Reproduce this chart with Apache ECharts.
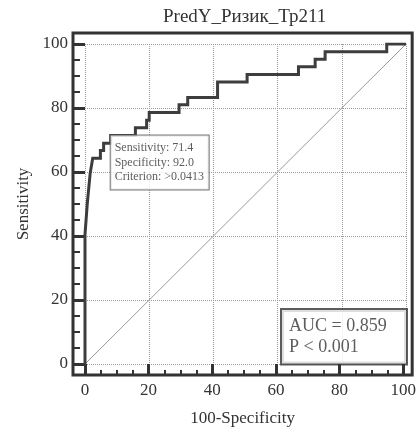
<!DOCTYPE html>
<html><head><meta charset="utf-8">
<script src="https://cdn.jsdelivr.net/npm/echarts@6/dist/echarts.min.js"></script>
<style>html,body{margin:0;padding:0;background:#fff}#c{width:419px;height:432px}</style>
</head><body><div id="c"></div>
<script>
const titleText = 'PredY_Ризик_Тр211';
const xName = '100-Specificity';
const yName = 'Sensitivity';
const fpr = [0,0,0.7,1.6,2.4,4.8,4.8,5.8,5.8,8.0,8.0,15.7,15.7,19.2,19.2,20.0,20.0,29.3,29.3,32.0,32.0,41.3,41.3,50.5,50.5,66.5,66.5,71.7,71.7,74.8,74.8,94.0,94.0,100];
const tpr = [0,40.5,50,59.5,64.3,64.3,66.7,66.7,69.0,69.0,71.4,71.4,73.8,73.8,76.2,76.2,78.6,78.6,81.0,81.0,83.3,83.3,88.1,88.1,90.5,90.5,92.9,92.9,95.2,95.2,97.6,97.6,100,100];
const refX = [0, 100];
const refY = [0, 100];
const critPoint = [8.0, 71.4];
const critLines = ['Sensitivity: 71.4', 'Specificity: 92.0', 'Criterion: >0.0413'];
const aucLines = ['AUC = 0.859', 'P < 0.001'];
const majorTicks = [0, 20, 40, 60, 80, 100];
const minorTicks = [5, 10, 15, 25, 30, 35, 45, 50, 55, 65, 70, 75, 85, 90, 95];
const axisMin = 0, axisMax = 100, axisStep = 20;

const FONT = 'Liberation Serif';
const TXT = '#333';

// layout (pixels)
const frame = {left: 73, top: 33, right: 415, bottom: 375};
const plot = {left: 85, top: 44, right: 406, bottom: 364};
const xPerPx = (axisMax - axisMin) / (plot.right - plot.left);
const yPerPx = (axisMax - axisMin) / (plot.bottom - plot.top);
const fxMin = axisMin - (plot.left - frame.left) * xPerPx;
const fxMax = axisMax + (frame.right - plot.right) * xPerPx;
const fyMin = axisMin - (frame.bottom - plot.bottom) * yPerPx;
const fyMax = axisMax + (plot.top - frame.top) * yPerPx;

const chart = echarts.init(document.getElementById('c'), null, {renderer: 'canvas'});
const rocData = fpr.map((x, i) => [x, tpr[i]]);
const refData = refX.map((x, i) => [x, refY[i]]);

function frameAxis(isX, major) {
  const ax = {
    type: 'value', gridIndex: 0,
    min: isX ? fxMin : fyMin, max: isX ? fxMax : fyMax,
    position: isX ? 'bottom' : 'left',
    axisLine: {show: false, onZero: false},
    splitLine: {show: false},
    axisTick: {show: true, inside: true,
      customValues: major ? majorTicks : minorTicks,
      length: major ? (isX ? 11 : 12) : (isX ? 5 : 7),
      lineStyle: {color: '#333', width: major ? 3 : 2}},
    axisLabel: major ? {show: true, customValues: majorTicks, fontFamily: FONT, fontSize: 17, color: TXT, margin: isX ? 7 : 5}
                     : {show: false}
  };
  if (major) {
    ax.name = isX ? xName : yName;
    ax.nameLocation = 'middle';
    ax.nameGap = isX ? 35 : 41;
    ax.nameTextStyle = {fontFamily: FONT, fontSize: 17, color: TXT};
  }
  return ax;
}
function dataAxis(isX) {
  return {
    type: 'value', gridIndex: 1, min: axisMin, max: axisMax, interval: axisStep,
    position: isX ? 'bottom' : 'left',
    axisLine: {show: false, onZero: false}, axisTick: {show: false}, axisLabel: {show: false},
    splitLine: {show: true, lineStyle: {color: '#999', width: 1, type: [1, 1]}}
  };
}

chart.setOption({
  animation: false,
  backgroundColor: '#fff',
  title: {text: titleText, left: 158, top: 3,
    textStyle: {fontFamily: FONT, fontSize: 19, fontWeight: 'normal', color: TXT}},
  grid: [
    {left: frame.left, top: frame.top, width: frame.right - frame.left, height: frame.bottom - frame.top,
      show: true, borderColor: '#333', borderWidth: 3, backgroundColor: 'transparent'},
    {left: plot.left, top: plot.top, width: plot.right - plot.left, height: plot.bottom - plot.top}
  ],
  xAxis: [frameAxis(true, true), frameAxis(true, false), dataAxis(true)],
  yAxis: [frameAxis(false, true), frameAxis(false, false), dataAxis(false)],
  series: [
    {type: 'line', xAxisIndex: 2, yAxisIndex: 2, data: refData, symbol: 'none',
      lineStyle: {color: '#999', width: 1}, z: 2, silent: true},
    {type: 'line', xAxisIndex: 2, yAxisIndex: 2, data: rocData, symbol: 'none',
      lineStyle: {color: '#3d3d3d', width: 3, join: 'miter', cap: 'butt'}, z: 3, silent: true},
    {type: 'scatter', xAxisIndex: 2, yAxisIndex: 2, data: [critPoint], symbolSize: 0, z: 10,
      label: {show: true, position: [0, 0], align: 'left', verticalAlign: 'top',
        formatter: critLines.join('\n'), fontFamily: FONT, fontSize: 12, color: TXT,
        lineHeight: 14.7, backgroundColor: '#fff', borderColor: '#555', borderWidth: 1,
        padding: [5, 4, 5, 4], width: 90}},
    {type: 'scatter', xAxisIndex: 2, yAxisIndex: 2, data: [[axisMax, axisMin]], symbolSize: 0, z: 10,
      label: {show: true, position: [-124, -54], align: 'left', verticalAlign: 'top',
        formatter: aucLines.join('\n'), fontFamily: FONT, fontSize: 18, color: TXT,
        lineHeight: 21.7, backgroundColor: '#fff', borderColor: '#333', borderWidth: 2,
        padding: [5, 6, 5, 7], width: 111}}
  ]
});
</script></body></html>
